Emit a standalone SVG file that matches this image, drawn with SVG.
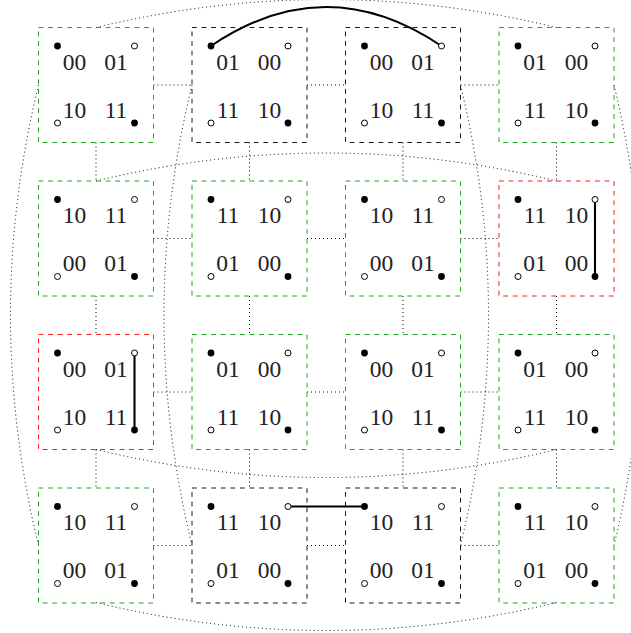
<svg xmlns="http://www.w3.org/2000/svg" width="631" height="633" viewBox="0 0 631 633">
<style>
.bx{fill:none;stroke-width:0.9;stroke-dasharray:4.8 4.8}
.g{stroke:#00a000}
.r{stroke:#ff0000}
.k{stroke:#000}
.dot{fill:none;stroke:#000;stroke-width:1;stroke-dasharray:1 3}
.thick{fill:none;stroke:#000;stroke-width:2.1}
.f{fill:#000}
.o{fill:#fff;stroke:#000;stroke-width:1}
text{font-family:"Liberation Serif","DejaVu Serif",serif;font-size:23.5px;fill:#222;text-anchor:middle}
</style>
<defs>
<g id="dots">
<circle class="f" cx="19" cy="18.5" r="3.4"/>
<circle class="o" cx="96" cy="18.5" r="3"/>
<circle class="o" cx="19" cy="95.5" r="3"/>
<circle class="f" cx="96" cy="95.5" r="3.4"/>
</g>
</defs>
<g id="connectors">
<path class="dot" d="M153.5,85H192M307,85H345.5M460.5,85H499"/>
<path class="dot" d="M153.5,238.5H192M307,238.5H345.5M460.5,238.5H499"/>
<path class="dot" d="M153.5,392H192M307,392H345.5M460.5,392H499"/>
<path class="dot" d="M153.5,545.5H192M307,545.5H345.5M460.5,545.5H499"/>
<path class="dot" d="M96,142.5V181M249.5,142.5V181M403,142.5V181M556.5,142.5V181"/>
<path class="dot" d="M96,296V334.5M249.5,296V334.5M403,296V334.5M556.5,296V334.5"/>
<path class="dot" d="M96,449.5V488M249.5,449.5V488M403,449.5V488M556.5,449.5V488"/>
<path class="dot" d="M96,27.5Q326.25,-28.5 556.5,27.5"/>
<path class="dot" d="M96,181Q326.25,125 556.5,181"/>
<path class="dot" d="M96,449.5Q326.25,505.5 556.5,449.5"/>
<path class="dot" d="M96,602.5Q326.25,658.5 556.5,602.5"/>
<path class="dot" d="M38.5,85Q-17.5,315.25 38.5,545.5"/>
<path class="dot" d="M192,85Q136,315.25 192,545.5"/>
<path class="dot" d="M460.5,85Q516.5,315.25 460.5,545.5"/>
<path class="dot" d="M614,85Q670,315.25 614,545.5"/>
<path class="thick" d="M211,46Q326,-32 441.5,46"/>
<path class="thick" d="M595,199.5V276.5"/>
<path class="thick" d="M134.5,353V430"/>
<path class="thick" d="M288,506.5H364.5"/>
</g>
<g id="n00" transform="translate(38.5,27.5)"><rect class="bx g" width="115" height="115"/><use href="#dots"/><text x="36" y="42">00</text><text x="77.5" y="42">01</text><text x="36" y="90">10</text><text x="77.5" y="90">11</text></g>
<g id="n01" transform="translate(192,27.5)"><rect class="bx k" width="115" height="115"/><use href="#dots"/><text x="36" y="42">01</text><text x="77.5" y="42">00</text><text x="36" y="90">11</text><text x="77.5" y="90">10</text></g>
<g id="n02" transform="translate(345.5,27.5)"><rect class="bx k" width="115" height="115"/><use href="#dots"/><text x="36" y="42">00</text><text x="77.5" y="42">01</text><text x="36" y="90">10</text><text x="77.5" y="90">11</text></g>
<g id="n03" transform="translate(499,27.5)"><rect class="bx g" width="115" height="115"/><use href="#dots"/><text x="36" y="42">01</text><text x="77.5" y="42">00</text><text x="36" y="90">11</text><text x="77.5" y="90">10</text></g>
<g id="n10" transform="translate(38.5,181)"><rect class="bx g" width="115" height="115"/><use href="#dots"/><text x="36" y="42">10</text><text x="77.5" y="42">11</text><text x="36" y="90">00</text><text x="77.5" y="90">01</text></g>
<g id="n11" transform="translate(192,181)"><rect class="bx g" width="115" height="115"/><use href="#dots"/><text x="36" y="42">11</text><text x="77.5" y="42">10</text><text x="36" y="90">01</text><text x="77.5" y="90">00</text></g>
<g id="n12" transform="translate(345.5,181)"><rect class="bx g" width="115" height="115"/><use href="#dots"/><text x="36" y="42">10</text><text x="77.5" y="42">11</text><text x="36" y="90">00</text><text x="77.5" y="90">01</text></g>
<g id="n13" transform="translate(499,181)"><rect class="bx r" width="115" height="115"/><use href="#dots"/><text x="36" y="42">11</text><text x="77.5" y="42">10</text><text x="36" y="90">01</text><text x="77.5" y="90">00</text></g>
<g id="n20" transform="translate(38.5,334.5)"><rect class="bx r" width="115" height="115"/><use href="#dots"/><text x="36" y="42">00</text><text x="77.5" y="42">01</text><text x="36" y="90">10</text><text x="77.5" y="90">11</text></g>
<g id="n21" transform="translate(192,334.5)"><rect class="bx g" width="115" height="115"/><use href="#dots"/><text x="36" y="42">01</text><text x="77.5" y="42">00</text><text x="36" y="90">11</text><text x="77.5" y="90">10</text></g>
<g id="n22" transform="translate(345.5,334.5)"><rect class="bx g" width="115" height="115"/><use href="#dots"/><text x="36" y="42">00</text><text x="77.5" y="42">01</text><text x="36" y="90">10</text><text x="77.5" y="90">11</text></g>
<g id="n23" transform="translate(499,334.5)"><rect class="bx g" width="115" height="115"/><use href="#dots"/><text x="36" y="42">01</text><text x="77.5" y="42">00</text><text x="36" y="90">11</text><text x="77.5" y="90">10</text></g>
<g id="n30" transform="translate(38.5,488)"><rect class="bx g" width="115" height="115"/><use href="#dots"/><text x="36" y="42">10</text><text x="77.5" y="42">11</text><text x="36" y="90">00</text><text x="77.5" y="90">01</text></g>
<g id="n31" transform="translate(192,488)"><rect class="bx k" width="115" height="115"/><use href="#dots"/><text x="36" y="42">11</text><text x="77.5" y="42">10</text><text x="36" y="90">01</text><text x="77.5" y="90">00</text></g>
<g id="n32" transform="translate(345.5,488)"><rect class="bx k" width="115" height="115"/><use href="#dots"/><text x="36" y="42">10</text><text x="77.5" y="42">11</text><text x="36" y="90">00</text><text x="77.5" y="90">01</text></g>
<g id="n33" transform="translate(499,488)"><rect class="bx g" width="115" height="115"/><use href="#dots"/><text x="36" y="42">11</text><text x="77.5" y="42">10</text><text x="36" y="90">01</text><text x="77.5" y="90">00</text></g>
</svg>
